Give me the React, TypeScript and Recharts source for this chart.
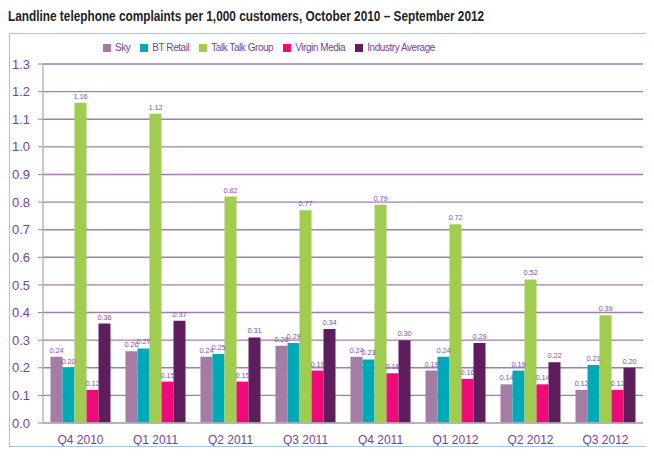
import React from "react";
import { BarChart, Bar, XAxis, YAxis, CartesianGrid, Legend, LabelList } from "recharts";

const quarters = ["Q4 2010", "Q1 2011", "Q2 2011", "Q3 2011", "Q4 2011", "Q1 2012", "Q2 2012", "Q3 2012"];
const sky = [0.24, 0.26, 0.24, 0.28, 0.24, 0.19, 0.14, 0.12];
const btRetail = [0.2, 0.27, 0.25, 0.29, 0.23, 0.24, 0.19, 0.21];
const talkTalk = [1.16, 1.12, 0.82, 0.77, 0.79, 0.72, 0.52, 0.39];
const virgin = [0.12, 0.15, 0.15, 0.19, 0.18, 0.16, 0.14, 0.12];
const industry = [0.36, 0.37, 0.31, 0.34, 0.3, 0.29, 0.22, 0.2];
const yTicks = [0, 0.1, 0.2, 0.3, 0.4, 0.5, 0.6, 0.7, 0.8, 0.9, 1.0, 1.1, 1.2, 1.3];

const series = [
  { key: "sky", name: "Sky", color: "#a47ca4" },
  { key: "bt", name: "BT Retail", color: "#00a9b8" },
  { key: "tt", name: "Talk Talk Group", color: "#a0cc50" },
  { key: "vm", name: "Virgin Media", color: "#ee0a78" },
  { key: "ind", name: "Industry Average", color: "#5e1e5e" },
];

const data = quarters.map((q, i) => ({
  q,
  sky: sky[i],
  bt: btRetail[i],
  tt: talkTalk[i],
  vm: virgin[i],
  ind: industry[i],
}));

const purple = "#7a3f9e";
const font = "'Liberation Sans', Arial, sans-serif";

export default function App() {
  return (
    <div style={{ width: 640, fontFamily: font }}>
      <div style={{ fontSize: 14.5, fontWeight: "bold", color: "#222", height: 25, lineHeight: "16px", whiteSpace: "nowrap", transform: "scaleX(0.815)", transformOrigin: "left" }}>
        Landline telephone complaints per 1,000 customers, October 2010 – September 2012
      </div>
      <div style={{ marginLeft: 1, width: 637, height: 412, border: "1px solid #a9c2de", boxShadow: "1px 1px 2px #d0dbe8" }}>
        <BarChart
          width={637}
          height={412}
          data={data}
          margin={{ top: 4, right: 4, bottom: 0, left: 0 }}
          barCategoryGap="10%"
          barGap={0}
        >
          <CartesianGrid vertical={false} stroke="#a47cae" strokeWidth={1.4} />
          <Legend
            verticalAlign="top"
            align="left"
            iconType="square"
            iconSize={8}
            height={26}
            itemSorter={(item: any) => series.findIndex((s) => s.name === item.value)}
            wrapperStyle={{ left: 93, top: 8, fontSize: 10, letterSpacing: -0.45 }}
            formatter={(v) => <span style={{ color: purple }}>{v}</span>}
          />
          <XAxis
            dataKey="q"
            tickLine={false}
            axisLine={{ stroke: "#b8b8b8", strokeWidth: 1.5 }}
            tick={{ fontSize: 12, fill: purple }}
            height={23}
            tickMargin={6}
          />
          <YAxis
            domain={[0, 1.3]}
            ticks={yTicks}
            interval={0}
            tickFormatter={(v) => Number(v).toFixed(1)}
            tick={{ fontSize: 13, fill: purple, textAnchor: "start", dx: -24 }}
            tickLine={{ stroke: "#a47cae" }}
            tickSize={5}
            axisLine={{ stroke: "#b8b8b8", strokeWidth: 1.5 }}
            width={33}
          />
          {series.map((s) => (
            <Bar key={s.key} dataKey={s.key} name={s.name} fill={s.color} isAnimationActive={false}>
              <LabelList
                dataKey={s.key}
                position="top"
                offset={4}
                formatter={(v) => Number(v).toFixed(2)}
                style={{ fontSize: 7.5, fill: "#8a55b0", letterSpacing: -0.2 }}
              />
            </Bar>
          ))}
        </BarChart>
      </div>
    </div>
  );
}
